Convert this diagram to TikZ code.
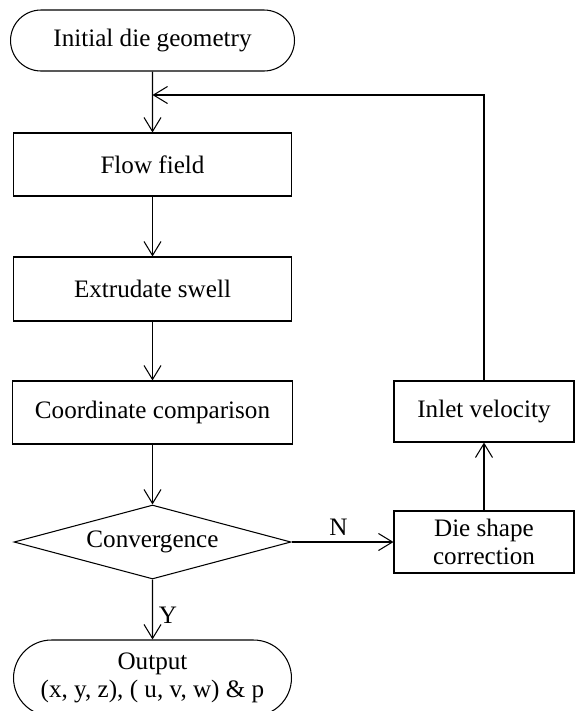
\documentclass[tikz,border=0pt]{standalone}
\usepackage{fontspec}
\setmainfont{Liberation Serif}
\usepackage{tikz}
\usetikzlibrary{arrows.meta}
\usetikzlibrary{shapes.geometric}
\usetikzlibrary{shapes.misc}
\tikzstyle{every node}=[font=\fontsize{14.3}{15.6}\selectfont, align=center]
\tikzstyle{box}=[rectangle, draw, inner sep=0pt]
\tikzstyle{term}=[rounded rectangle, draw, inner sep=0pt]
\tikzstyle{test}=[diamond, draw, inner sep=0pt, aspect=3.74]
\tikzset{flow/.style={-{Straight Barb[length=2.8mm,width=3.4mm]}}}

\begin{document}
\begin{tikzpicture}[x=0.02cm,y=-0.02cm,line width=0.6pt]
		\useasboundingbox (0,0) rectangle (576,711);
		\node[term, minimum width=5.68cm, minimum height=1.22cm] (init) at (152.5,40.5) {Initial die geometry};
		\node[box, minimum width=5.56cm, minimum height=1.26cm] (field) at (152.5,164.5) {Flow field};
		\node[box, minimum width=5.56cm, minimum height=1.28cm] (swell) at (152.5,289) {Extrudate swell};
		\node[box, minimum width=5.6cm, minimum height=1.26cm] (coord) at (152.5,412.5) {Coordinate comparison};
		\node[test, minimum width=5.54cm, minimum height=1.48cm] (conv) at (152.5,542) {Convergence};
		\node[term, minimum width=5.56cm, minimum height=1.52cm] (out) at (152.5,678) {Output\\(x, y, z), ( u, v, w) \& p};
		\node[box, minimum width=3.6cm, minimum height=1.24cm] (die) at (484,542) {Die shape\\correction};
		\node[box, minimum width=3.6cm, minimum height=1.22cm] (inlet) at (484,411.5) {Inlet velocity};
		\coordinate (fb) at (152.5,95);
		\draw[flow] (init) -- (field);
		\draw[flow] (field) -- (swell);
		\draw[flow] (swell) -- (coord);
		\draw[flow] (coord) -- (conv);
		\draw[flow] (conv) -- node[right, pos=0.6]{Y} (out);
		\draw[flow] (conv) -- node[above, pos=0.46]{N} (die);
		\draw[flow] (die) -- (inlet);
		\draw[flow] (inlet) |- (fb);
		\end{tikzpicture}
\end{document}
